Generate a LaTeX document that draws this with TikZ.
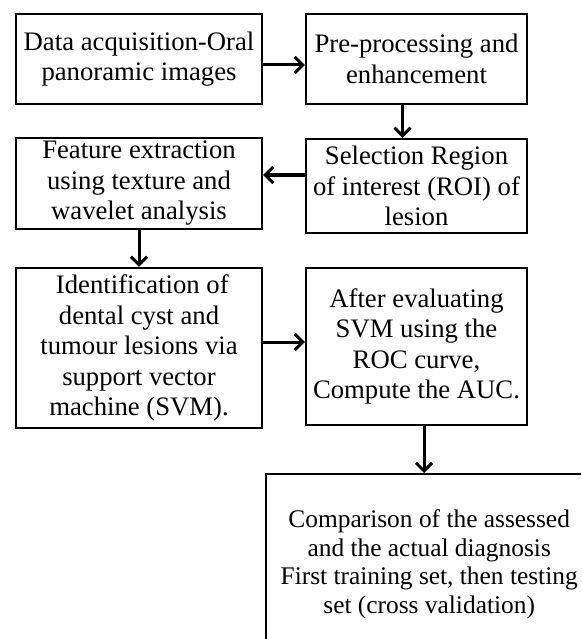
\documentclass[tikz,border=0pt]{standalone}
\usepackage{fontspec}
\setmainfont{Liberation Serif}
\usetikzlibrary{arrows.meta}
\tikzset{
  flowbox/.style={draw, line width=2.4pt, inner sep=0pt, align=center,
    font=\fontsize{26.7}{30.5}\selectfont},
  flowarrow/.style={line width=3pt, -{Straight Barb[length=8pt,width=16pt]}},
}
\begin{document}
\begin{tikzpicture}[x=1pt,y=-1pt]
\useasboundingbox (0,0) rectangle (581,639);
\clip (0,0) rectangle (581,639);

\node[flowbox, minimum width=246, minimum height=90] (acq) at (139,59)
  {Data acquisition-Oral\\panoramic images};
\node[flowbox, minimum width=221, minimum height=90] (pre) at (416.5,59)
  {Pre-processing and\\enhancement};
\node[flowbox, minimum width=221, minimum height=94] (roi) at (416.5,186)
  {Selection Region\\of interest (ROI) of\\lesion};
\node[flowbox, minimum width=246, minimum height=91] (feat) at (139,183.5)
  {Feature extraction\\using texture and\\wavelet analysis};
\node[flowbox, minimum width=246, minimum height=160] (svm) at (139,348)
  {\ Identification of\\dental cyst and\\tumour lesions via\\support vector\\machine (SVM).};
\node[flowbox, minimum width=221, minimum height=157] (auc) at (416.5,346.5)
  {After evaluating\\SVM using the\\ROC curve,\\Compute the AUC.};
\node[flowbox, minimum width=326, minimum height=180, anchor=north west,
  font=\fontsize{25.4}{28.5}\selectfont] (cmp) at (265,473)
  {Comparison of the assessed\\and the actual diagnosis\\First training set, then testing\\set (cross validation)};

\draw[flowarrow] ([yshift=-6pt]acq.east) -- ([yshift=-6pt]pre.west);
\draw[flowarrow] ([xshift=-14pt]pre.south) -- ([xshift=-14pt]roi.north);
\draw[flowarrow] ([yshift=11pt]roi.west) -- ([yshift=8.5pt]feat.east);
\draw[flowarrow] (feat.south) -- (svm.north);
\draw[flowarrow] ([yshift=6pt]svm.east) -- ([yshift=4.5pt]auc.west);
\draw[flowarrow] ([xshift=7.5pt]auc.south) -- ([xshift=7.5pt]auc.south |- cmp.north);
\end{tikzpicture}
\end{document}
